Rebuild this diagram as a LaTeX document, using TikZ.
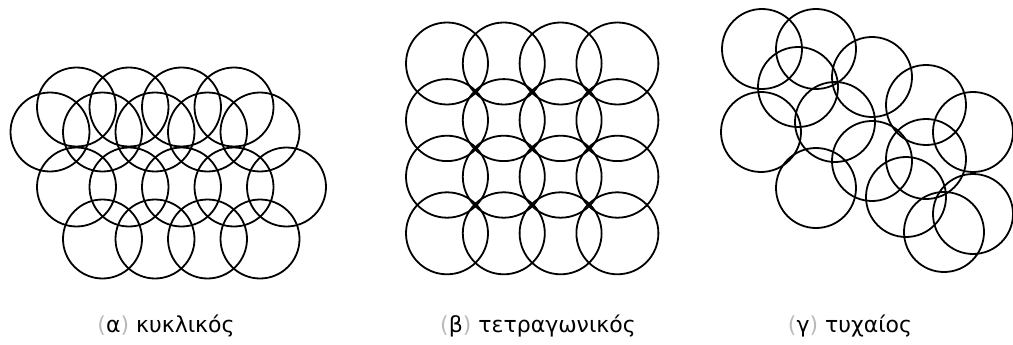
\documentclass[tikz,border=0pt]{standalone}
\usepackage{fontspec}
\setsansfont{DejaVu Sans}
\usepackage{tikz}
\tikzset{
  ring/.style={black, line width=1.8pt},
  caption/.style={anchor=base, font=\sffamily\fontsize{22}{26}\selectfont},
  paren/.style={gray!55},
}
\newcommand{\pbox}[1]{\textcolor{gray!55}{(}#1\textcolor{gray!55}{)}}

\begin{document}
\begin{tikzpicture}[x=1pt, y=-1pt]
    \useasboundingbox (0,0) rectangle (1013,345);
    % ---------------- left: staggered rows ----------------
    \begin{scope}
      \foreach \k in {0,...,3} { \draw[ring] (76.5+52.5*\k,107) circle[radius=39.5]; }
      \foreach \k in {0,...,4} { \draw[ring] (50+52.5*\k,132) circle[radius=39.5]; }
      \foreach \k in {0,...,4} { \draw[ring] (76.5+52.5*\k,187) circle[radius=39.5]; }
      \foreach \k in {1,...,4} { \draw[ring] (50+52.5*\k,239) circle[radius=39.5]; }
      \node[caption] (capa) at (166,332) {\pbox{α} κυκλικός};
    \end{scope}
    % ---------------- middle: square grid ----------------
    \begin{scope}
      \foreach \i in {0,...,3}
        \foreach \j in {0,...,3}
          { \draw[ring] (447+56.8*\i,63.5+56.6*\j) circle[radius=41]; }
      \node[caption] (capb) at (538,332) {\pbox{β} τετραγωνικός};
    \end{scope}
    % ---------------- right: random placement ----------------
    \begin{scope}
      \foreach \cx/\cy in {762/49, 816/49, 798/87, 872/77, 761/132, 835/122,
                           926/105, 973/132, 872/161, 926/159, 816/188,
                           906/197, 973/214, 944/232}
        { \draw[ring] (\cx,\cy) circle[radius=40]; }
      \node[caption] (capc) at (850,332) {\pbox{γ} τυχαίος};
    \end{scope}
  \end{tikzpicture}
\end{document}
